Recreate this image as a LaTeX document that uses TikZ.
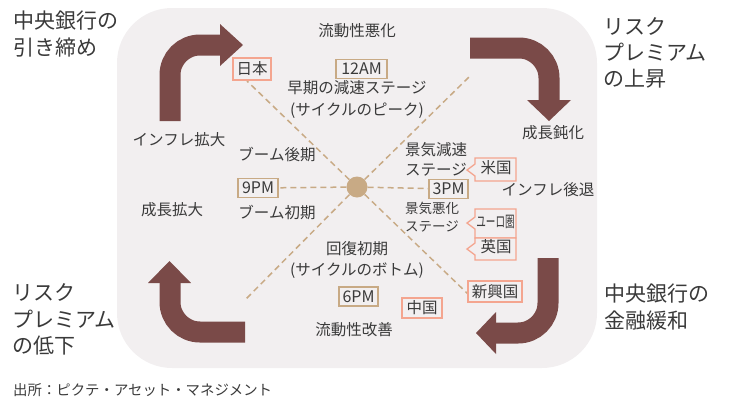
\documentclass[tikz,border=0pt]{standalone}
\usepackage{fontspec}
\setmainfont{Noto Sans CJK JP}
\definecolor{bgc}{HTML}{F2EFF0}
\definecolor{arrc}{HTML}{7A4A48}
\definecolor{tanc}{HTML}{C8AA85}
\definecolor{salc}{HTML}{F4A58F}
\definecolor{txtc}{HTML}{3A3A3A}
\tikzset{
  lbl/.style={inner sep=0pt, text=txtc, font=\fontsize{15.5}{18}\selectfont, text height=0.88em, text depth=0.12em},
  smalllbl/.style={lbl, font=\fontsize{13.5}{16}\selectfont},
  outerlbl/.style={inner sep=0pt, text=txtc, font=\fontsize{21}{26}\selectfont, anchor=west, text height=0.88em, text depth=0.12em},
  timebox/.style={draw=tanc, line width=1.3pt, fill=bgc, text=txtc, inner sep=0pt, minimum height=19pt, font=\fontsize{16}{18}\selectfont},
  ctrybox/.style={draw=salc, line width=1.3pt, fill=bgc, text=txtc, inner sep=0pt, font=\fontsize{15.5}{18}\selectfont},
  callout/.style={draw=salc, line width=1.3pt, fill=bgc},
  tanline/.style={draw=tanc, line width=1.5pt, dash pattern=on 6pt off 4pt},
  band/.style={draw=arrc, line width=21pt, rounded corners=30pt},
  head/.style={fill=arrc},
}
\begin{document}
\begin{tikzpicture}[x=1pt,y=-1pt]
\useasboundingbox (0,0) rectangle (731,405);
\fill[bgc, rounded corners=55pt] (117,8) rectangle (597,368);

% curved arrows
\draw[band] (170,121) -- (170,45) -- (222,45);
\fill[head] (220,24) -- (243,45) -- (220,66) -- cycle;
\draw[band] (470,48) -- (549,48) -- (549,102);
\fill[head] (527,100) -- (571,100) -- (549,121) -- cycle;
\draw[band] (548,258) -- (548,333) -- (493,333);
\fill[head] (496,312) -- (476,333) -- (496,354) -- cycle;
\draw[band] (245,332) -- (170,332) -- (170,280);
\fill[head] (148,283) -- (191,283) -- (169.5,261) -- cycle;

% centre and dashed spokes
\node[circle, fill=tanc, minimum size=21pt, inner sep=0pt] (c) at (357,187) {};
\node[timebox, minimum width=51pt] (am12) at (361.5,69) {12AM};
\node[timebox, minimum width=40pt] (pm9) at (258,188) {9PM};
\node[timebox, minimum width=39pt] (pm3) at (448.5,189) {3PM};
\node[timebox, minimum width=39pt] (pm6) at (358.5,296.5) {6PM};
\coordinate (ul) at (247,81);
\coordinate (ur) at (469,77);
\coordinate (ll) at (245,300);
\coordinate (lr) at (469,295);
\draw[tanline] (c) -- (ul);
\draw[tanline] (c) -- (ur);
\draw[tanline] (c) -- (ll);
\draw[tanline] (c) -- (lr);
\draw[tanline] (c) -- (pm9);
\draw[tanline] (c) -- (pm3);

% country boxes
\node[ctrybox, minimum width=38pt, minimum height=22pt] (jp) at (252,69) {日本};
\node[ctrybox, minimum width=40pt, minimum height=20pt] (cn) at (422,308) {中国};
\node[ctrybox, minimum width=54pt, minimum height=21pt] (em) at (495,291.5) {新興国};
\draw[callout] (475,158) -- (516,158) -- (516,181) -- (475,181) -- (475,176) -- (467,170) -- (475,164) -- cycle;
\node[lbl] (us) at (496,170) {米国};
\draw[callout] (475,209) -- (516,209) -- (516,238) -- (475,238) -- (475,229) -- (467,223) -- (475,217) -- cycle;
\node[lbl] (eu) at (495.5,224) {\scalebox{0.62}[1]{ユーロ圏}};
\draw[callout] (475,238) -- (516,238) -- (516,260) -- (475,260) -- (475,255) -- (467,249) -- (475,243) -- cycle;
\node[lbl] (uk) at (496,249) {英国};

% inner labels
\node[lbl] (l1) at (357,33) {流動性悪化};
\node[lbl] (l2) at (357,90) {早期の減速ステージ};
\node[lbl] (l3) at (357,112) {(サイクルのピーク)};
\node[lbl] (l4) at (179,142) {インフレ拡大};
\node[lbl] (l5) at (277,157) {ブーム後期};
\node[lbl] (l6) at (172,212) {成長拡大};
\node[lbl] (l7) at (277,215) {ブーム初期};
\node[lbl] (l8) at (553,135) {成長鈍化};
\node[lbl, anchor=west] (l9) at (405,152) {景気減速};
\node[lbl, anchor=west] (l10) at (405,172) {ステージ};
\node[lbl] (l11) at (548,192) {インフレ後退};
\node[smalllbl, anchor=west] (l12) at (405,210) {景気悪化};
\node[smalllbl, anchor=west] (l13) at (405,228) {ステージ};
\node[lbl] (l14) at (357,251) {回復初期};
\node[lbl] (l15) at (357,272) {(サイクルのボトム)};
\node[lbl] (l16) at (354,332) {流動性改善};

% outer labels
\node[outerlbl] (o1) at (13,25) {中央銀行の};
\node[outerlbl] (o2) at (13,52) {引き締め};
\node[outerlbl] (o3) at (603,31) {リスク};
\node[outerlbl] (o4) at (603,57) {プレミアム};
\node[outerlbl] (o5) at (603,83) {の上昇};
\node[outerlbl] (o6) at (12,297) {リスク};
\node[outerlbl] (o7) at (12,324) {プレミアム};
\node[outerlbl] (o8) at (12,350) {の低下};
\node[outerlbl] (o9) at (604,298) {中央銀行の};
\node[outerlbl] (o10) at (604,325) {金融緩和};
\node[outerlbl, font=\fontsize{14.4}{17}\selectfont] (src) at (13,392) {出所：ピクテ・アセット・マネジメント};
\end{tikzpicture}
\end{document}
